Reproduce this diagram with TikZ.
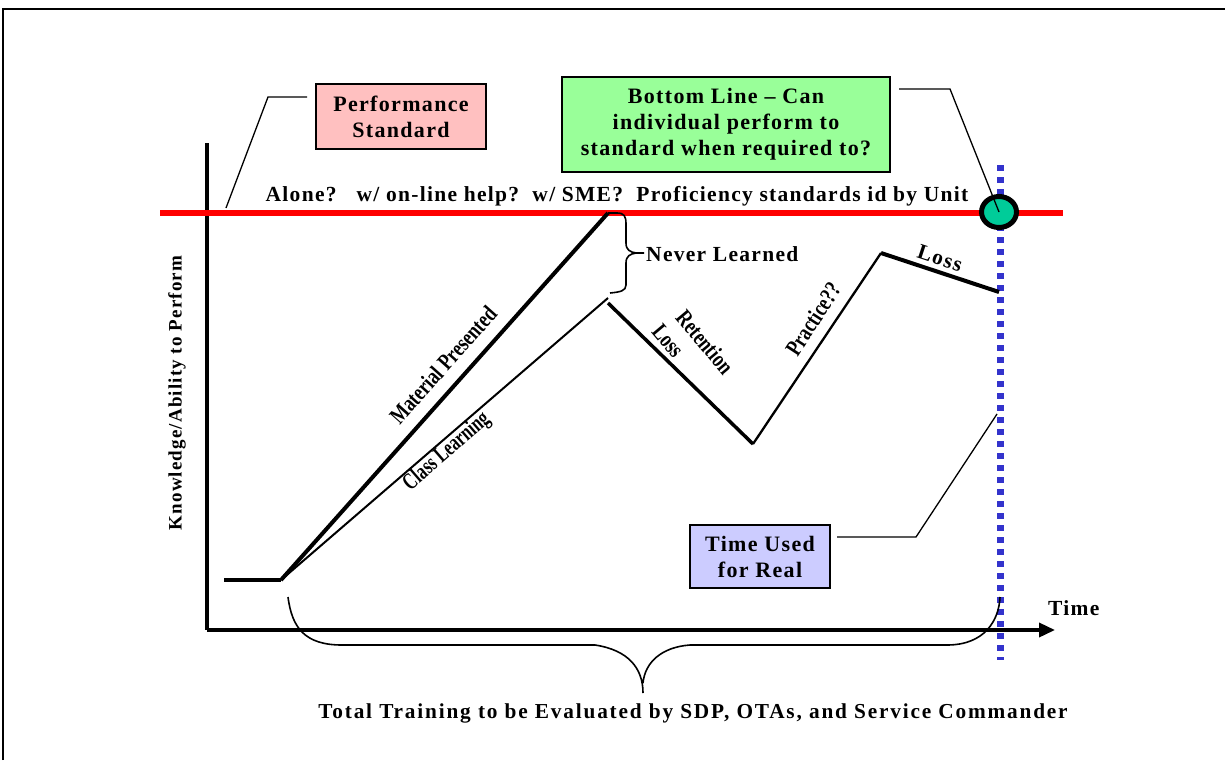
\documentclass[tikz,border=0pt]{standalone}
\usetikzlibrary{arrows.meta,shapes.geometric}
\usepackage{fontspec}
\setmainfont{Liberation Serif}
\newfontfamily\spaced{Liberation Serif}[LetterSpace=6]
\newfontfamily\widespaced{Liberation Serif}[LetterSpace=8.5]
\newfontfamily\condA{Liberation Serif}[FakeStretch=0.77]
\newfontfamily\condB{Liberation Serif}[FakeStretch=0.70]
\definecolor{pinkbox}{RGB}{255,192,192}
\definecolor{greenbox}{RGB}{153,255,153}
\definecolor{lavbox}{RGB}{204,204,255}
\definecolor{dotblue}{RGB}{51,51,204}
\definecolor{dotgreen}{RGB}{0,204,153}
\begin{document}
\begin{tikzpicture}[x=1pt,y=-1pt,
  lbl/.style={font=\spaced\bfseries\fontsize{21.5}{25}\selectfont, inner sep=0pt},
  boxed/.style={font=\spaced\bfseries\fontsize{22}{25}\selectfont, draw=black, line width=1.6pt, align=center, inner sep=0pt},
  rot/.style={font=\condA\bfseries\fontsize{23.5}{25}\selectfont, inner sep=0pt},
  leader/.style={line width=1.3pt},
]
\useasboundingbox (0,0) rectangle (1225,760);
% frame
\draw[line width=1.5pt] (3,760) -- (3,9) -- (1225,9);

% axes
\coordinate (yt) at (207,143);
\coordinate (org) at (207,630);
\coordinate (xe) at (1055,630);
\draw[line width=3.5pt] (yt) -- (org);
\draw[line width=3.5pt,-{Triangle[length=16pt,width=14pt]}] (org) -- (xe);
\node[lbl, anchor=west] (time) at (1048,608) {Time};
\node[font=\spaced\bfseries\fontsize{19}{22}\selectfont, rotate=90, inner sep=0pt] (ylab) at (177,393) {Knowledge/Ability to Perform};

% red standard line
\coordinate (rl) at (160,213);
\coordinate (rr) at (1063,213);
\draw[red, line width=6.5pt] (rl) -- (rr);
\node[lbl, anchor=center] (alone) at (617,196) {Alone?\ \ \ w/ on-line help?\ \ w/ SME?\ \ Proficiency standards id by Unit};

% blue dotted line
\coordinate (bt) at (1000,165);
\coordinate (bb) at (1000,660);
\draw[dotblue, line width=7pt, dash pattern=on 6pt off 6pt] (bt) -- (bb);

% curves
\coordinate (s0) at (224,580);
\coordinate (s1) at (281,580);
\coordinate (mp) at (608,213);
\coordinate (cl) at (608,298);
\coordinate (r0) at (608,303);
\coordinate (r1) at (753,444);
\coordinate (p1) at (881,253);
\coordinate (l1) at (999,292);
\draw[line width=4.5pt] (s0) -- (s1);
\draw[line width=4pt, line join=round] (s1) -- (mp);
\draw[line width=2pt] (s1) -- (cl);
\draw[line width=3.5pt] (r0) -- (r1);
\draw[line width=2.3pt] (r1) -- (p1);
\draw[line width=4pt] (p1) -- (l1);

\node[rot, rotate=48.3] (mptext) at (443,365) {Material Presented};
\node[rot, font=\condB\bfseries\fontsize{23.5}{25}\selectfont, rotate=40.8] (cltext) at (447,452) {Class Learning};
\node[rot, rotate=-50] (rettext) at (705,342) {Retention};
\node[rot, rotate=-50] (losstext) at (668,341) {Loss};
\node[rot, rotate=57] (prtext) at (813,319) {Practice??};
\node[lbl, rotate=-18.4] (loss2) at (940,258) {Loss};

% Never learned brace
\draw[line width=1.6pt] (mp) -- (617,213) .. controls (624,213) and (626,216) .. (626,224)
  -- (626,243) .. controls (626,250) and (630,252) .. (636,253) -- (644,253)
  (636,253) .. controls (630,254) and (626,256) .. (626,263)
  -- (626,285) .. controls (626,291) and (620,292) .. (610,293);
\node[lbl, anchor=west] (never) at (646,254) {Never Learned};

% green circle
\node[draw=black, fill=dotgreen, line width=5pt, ellipse, minimum width=35pt, minimum height=31pt, inner sep=0pt] (circ) at (999,212) {};

% boxes
\node[boxed, fill=pinkbox, minimum width=170pt, minimum height=65pt] (perf) at (401,116.5) {Performance\\[1pt]Standard};
\node[boxed, fill=greenbox, minimum width=328pt, minimum height=95pt] (bottom) at (726,124.5) {Bottom Line – Can\\[1pt]individual perform to\\[1pt]standard when required to?};
\node[boxed, fill=lavbox, minimum width=140pt, minimum height=63pt] (tur) at (760,556.5) {Time Used\\[1pt]for Real};

% leaders
\coordinate (pa) at (307,97);
\coordinate (pb) at (268,97);
\coordinate (pc) at (226,208);
\draw[leader] (pa) -- (pb) -- (pc);
\coordinate (ba) at (899,89);
\coordinate (bbk) at (950,89);
\draw[leader] (ba) -- (bbk) -- (circ.center);
\coordinate (ta) at (837,537);
\coordinate (tb) at (916,537);
\coordinate (tc) at (997,414);
\draw[leader] (ta) -- (tb) -- (tc);

% bottom brace
\draw[line width=1.6pt] (288,597) .. controls (292,628) and (305,645) .. (342,645) -- (595,645)
  .. controls (628,650) and (643,668) .. (643,693)
  (643,683) .. controls (645,662) and (662,647) .. (690,645) -- (947,645)
  .. controls (985,645) and (999,620) .. (1000,597);
\node[font=\widespaced\bfseries\fontsize{21.3}{24}\selectfont, inner sep=0pt] (total) at (693,713) {Total Training to be Evaluated by SDP, OTAs, and Service Commander};
\end{tikzpicture}
\end{document}
